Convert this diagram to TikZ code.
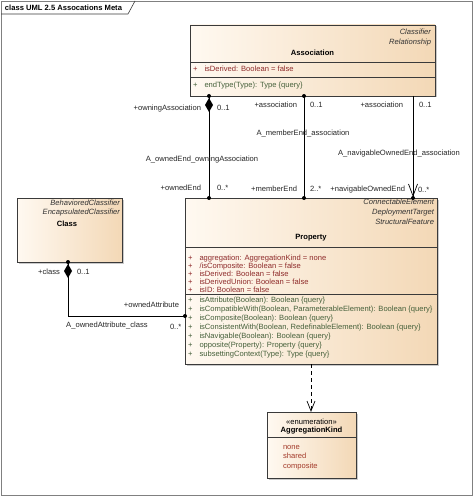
\documentclass[tikz,border=0pt]{standalone}
\usepackage{fontspec}
\setmainfont{Liberation Sans}
\usetikzlibrary{shadows,calc}
\definecolor{frameC}{HTML}{808080}
\definecolor{boxL}{HTML}{FFF9F1}
\definecolor{boxR}{HTML}{F3D8B6}
\definecolor{lineC}{HTML}{3A3A3A}
\definecolor{attrC}{HTML}{8E2A2A}
\definecolor{opC}{HTML}{45603A}
\definecolor{litC}{HTML}{A33A2A}
\definecolor{stereoC}{HTML}{333333}
\tikzset{
  txt/.style={font=\fontsize{7.6}{8.7}\selectfont, inner sep=0pt, outer sep=0pt},
  umlbox/.style={draw=lineC, line width=0.7pt, left color=boxL, right color=boxR,
     rectangle, inner sep=0pt, outer sep=0pt, anchor=north west,
     drop shadow={shadow xshift=1.5pt, shadow yshift=-1.5pt, opacity=0.35, fill=black!60}},
  sep/.style={draw=lineC, line width=0.6pt},
  stereo/.style={txt, font=\fontsize{7.6}{8.7}\selectfont\itshape, text=stereoC, anchor=base east},
  cname/.style={txt, font=\fontsize{7.6}{8.7}\selectfont\bfseries, anchor=base},
  attr/.style={txt, text=attrC, anchor=base west},
  oper/.style={txt, text=opC, anchor=base west},
  lbl/.style={txt, text=black!85},
  conn/.style={draw=black, line width=0.7pt},
  dot/.style={fill=black},
}
\newcommand{\plusmark}[1]{\makebox[11.5pt][l]{+}#1}
\begin{document}
\begin{tikzpicture}[x=1pt,y=-1pt]
\useasboundingbox (0,0) rectangle (474,497);
% frame
\draw[frameC, line width=0.8pt] (1,1) rectangle (472,495);
\draw[lineC, line width=0.6pt] (1,14) -- (128,14) -- (135,1);
\node[txt, font=\fontsize{7.6}{8.7}\selectfont\bfseries, anchor=base west] (title) at (5,10.5) {class UML 2.5 Assocations Meta};

% boxes
\node[umlbox, minimum width=245pt, minimum height=71pt] (assoc) at (190,25) {};
\node[umlbox, minimum width=252pt, minimum height=166pt] (prop) at (185,198) {};
\node[umlbox, minimum width=105pt, minimum height=64pt] (cls) at (17,198) {};
\node[umlbox, minimum width=89pt, minimum height=66pt] (aggr) at (267,412) {};

% Association
\node[stereo] (as1) at (431,34.7) {Classifier};
\node[stereo] (as2) at (431,44.7) {Relationship};
\node[cname] (asn) at (312.5,55.7) {Association};
\draw[sep] ($(assoc.north west)+(0,37)$) -- ($(assoc.north east)+(0,37)$);
\draw[sep] ($(assoc.north west)+(0,52)$) -- ($(assoc.north east)+(0,52)$);
\node[attr] (aa1) at (193,71.7) {\plusmark{isDerived: Boolean = false}};
\node[oper] (ao1) at (193,87.7) {\plusmark{endType(Type): Type \{query\}}};

% Property
\node[stereo] (ps1) at (434,204.5) {ConnectableElement};
\node[stereo] (ps2) at (434,214.7) {DeploymentTarget};
\node[stereo] (ps3) at (434,224.9) {StructuralFeature};
\node[cname] (psn) at (311,239) {Property};
\draw[sep] ($(prop.north west)+(0,49)$) -- ($(prop.north east)+(0,49)$);
\draw[sep] ($(prop.north west)+(0,96)$) -- ($(prop.north east)+(0,96)$);
\foreach \t [count=\i] in {{aggregation: AggregationKind = none},{/isComposite: Boolean = false},{isDerived: Boolean = false},{isDerivedUnion: Boolean = false},{isID: Boolean = false}}
  \node[attr] (pa\i) at (188,{252.5+8*\i}) {\plusmark{\t}};
\foreach \t [count=\i] in {{isAttribute(Boolean): Boolean \{query\}},{isCompatibleWith(Boolean, ParameterableElement): Boolean \{query\}},{isComposite(Boolean): Boolean \{query\}},{isConsistentWith(Boolean, RedefinableElement): Boolean \{query\}},{isNavigable(Boolean): Boolean \{query\}},{opposite(Property): Property \{query\}},{subsettingContext(Type): Type \{query\}}}
  \node[oper] (po\i) at (188,{293.7+9*\i}) {\plusmark{\t}};

% Class
\node[stereo] (cs1) at (120,205.5) {BehavioredClassifier};
\node[stereo] (cs2) at (120,214.5) {EncapsulatedClassifier};
\node[cname] (csn) at (67,226.5) {Class};

% AggregationKind
\node[txt, anchor=base] (ek1) at (311.5,424.5) {«enumeration»};
\node[cname] (ekn) at (311.5,432.7) {AggregationKind};
\draw[sep] ($(aggr.north west)+(0,25)$) -- ($(aggr.north east)+(0,25)$);
\node[txt, text=litC, anchor=base west] (el1) at (283,449.7) {none};
\node[txt, text=litC, anchor=base west] (el2) at (283,458.7) {shared};
\node[txt, text=litC, anchor=base west] (el3) at (283,468.2) {composite};

% connector coordinates
\coordinate (oA) at ($(assoc.south west)+(19,0)$);
\coordinate (oP) at ($(prop.north west)+(24,0)$);
\coordinate (mA) at ($(assoc.south west)+(114,0)$);
\coordinate (mP) at ($(prop.north west)+(119,0)$);
\coordinate (nA) at ($(assoc.south west)+(223,0)$);
\coordinate (nP) at ($(prop.north west)+(228,0)$);
\coordinate (cC) at ($(cls.south west)+(51,0)$);
\coordinate (cP) at ($(prop.north west)+(0,118)$);
\coordinate (dP) at ($(prop.south west)+(126,0)$);
\coordinate (dE) at ($(aggr.north west)+(44,0)$);

% A_ownedEnd_owningAssociation
\draw[conn] (oA) -- (oP);
\fill[dot] (oA) circle (2);
\fill[dot] ($(oA)+(0,2)$) -- ++(4,7) -- ++(-4,7) -- ++(-4,-7) -- cycle;
\fill[dot] (oP) circle (2);
\node[lbl, anchor=base east] (l1) at (201,110.7) {+owningAssociation};
\node[lbl, anchor=base west] (l2) at (217,110.7) {0..1};
\node[lbl, anchor=base] (l3) at (202,161.5) {A\_ownedEnd\_owningAssociation};
\node[lbl, anchor=base east] (l4) at (201,190.7) {+ownedEnd};
\node[lbl, anchor=base west] (l5) at (217,190.7) {0..*};

% A_memberEnd_association
\draw[conn] (mA) -- (mP);
\fill[dot] (mA) circle (2);
\fill[dot] (mP) circle (2);
\node[lbl, anchor=base east] (l6) at (297,107.7) {+association};
\node[lbl, anchor=base west] (l7) at (310,107.7) {0..1};
\node[lbl, anchor=base] (l8) at (303,136) {A\_memberEnd\_association};
\node[lbl, anchor=base east] (l9) at (297,191.5) {+memberEnd};
\node[lbl, anchor=base west] (l10) at (310,191.5) {2..*};

% A_navigableOwnedEnd_association
\draw[conn] (nA) -- (nP);
\draw[conn] ($(nP)+(-4.5,-14)$) -- ($(nP)+(0,-2)$) -- ($(nP)+(4.5,-14)$);
\fill[dot] (nP) circle (2);
\node[lbl, anchor=base east] (l11) at (403,107.7) {+association};
\node[lbl, anchor=base west] (l12) at (419,107.7) {0..1};
\node[lbl, anchor=base] (l13) at (399,156) {A\_navigableOwnedEnd\_association};
\node[lbl, anchor=base east] (l14) at (405,191) {+navigableOwnedEnd};
\node[lbl, anchor=base west] (l15) at (418,192) {0..*};

% A_ownedAttribute_class
\draw[conn] (cC) |- (cP);
\fill[dot] (cC) circle (2);
\fill[dot] ($(cC)+(0,2)$) -- ++(4,7) -- ++(-4,7) -- ++(-4,-7) -- cycle;
\fill[dot] (cP) circle (2);
\node[lbl, anchor=base east] (l16) at (60,274) {+class};
\node[lbl, anchor=base west] (l17) at (77,274.5) {0..1};
\node[lbl, anchor=base east] (l18) at (179,307.5) {+ownedAttribute};
\node[lbl, anchor=base] (l19) at (107,327) {A\_ownedAttribute\_class};
\node[lbl, anchor=base west] (l20) at (170,329.5) {0..*};

% dependency
\draw[conn, dash pattern=on 4pt off 3pt] (dP) -- (dE);
\draw[conn] ($(dE)+(-4,-11)$) -- ($(dE)+(0,-1)$) -- ($(dE)+(4,-11)$);
\end{tikzpicture}
\end{document}
